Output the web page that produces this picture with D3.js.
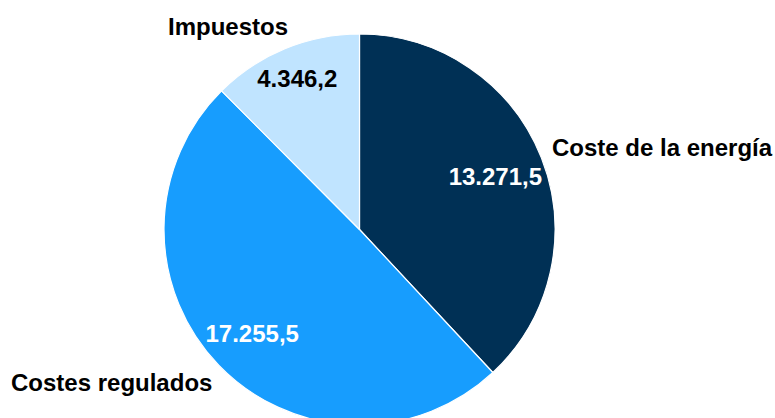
<!DOCTYPE html>
<html>
<head>
<meta charset="utf-8">
<script src="https://cdn.jsdelivr.net/npm/d3@7"></script>
<style>
  html, body { margin: 0; padding: 0; background: #ffffff; }
  svg { display: block; }
  text { font-family: "Liberation Sans", Arial, sans-serif; font-weight: bold; }
</style>
</head>
<body>
<svg id="chart" width="775" height="418"></svg>
<script>
// Desglose del coste (millones de euros)
const categories = ["Coste de la energía", "Costes regulados", "Impuestos"];
const values = [13271.5, 17255.5, 4346.2];
const valueLabels = ["13.271,5", "17.255,5", "4.346,2"];

// Presentation settings
const colors = ["#003055", "#179dfe", "#c0e4ff"];
const valueTextColors = ["#ffffff", "#ffffff", "#000000"];
const valueLabelRadius = [146, 149, 163];          // radial distance of the value text
const categoryAnchors = [                            // [x, baseline y, text-anchor]
  [552, 156, "start"],
  [11, 391, "start"],
  [168, 35, "start"]
];

const width = 775, height = 418;
const cx = 359.5, cy = 229.5, radius = 195.5;

const svg = d3.select("#chart");
const g = svg.append("g").attr("transform", `translate(${cx},${cy})`);

const data = categories.map((c, i) => ({ category: c, value: values[i], label: valueLabels[i], i }));

const pie = d3.pie().value(d => d.value).sort(null);
const arcs = pie(data);
const arc = d3.arc().innerRadius(0).outerRadius(radius);

g.selectAll("path.slice")
  .data(arcs)
  .join("path")
  .attr("class", "slice")
  .attr("d", arc)
  .attr("fill", d => colors[d.data.i])
  .attr("stroke", "#ffffff")
  .attr("stroke-width", 1.2)
  .attr("stroke-linejoin", "round");

// Value labels inside slices
g.selectAll("text.value")
  .data(arcs)
  .join("text")
  .attr("class", "value")
  .attr("transform", d => {
    const r = valueLabelRadius[d.data.i];
    const c = d3.arc().innerRadius(r).outerRadius(r).centroid(d);
    return `translate(${c[0]},${c[1]})`;
  })
  .attr("text-anchor", "middle")
  .attr("dy", "0.36em")
  .attr("font-size", 24)
  .attr("fill", d => valueTextColors[d.data.i])
  .text(d => d.data.label);

// Category names outside the pie
svg.selectAll("text.category")
  .data(data)
  .join("text")
  .attr("class", "category")
  .attr("x", d => categoryAnchors[d.i][0])
  .attr("y", d => categoryAnchors[d.i][1])
  .attr("text-anchor", d => categoryAnchors[d.i][2])
  .attr("font-size", 24)
  .attr("fill", "#000000")
  .text(d => d.category);
</script>
</body>
</html>
